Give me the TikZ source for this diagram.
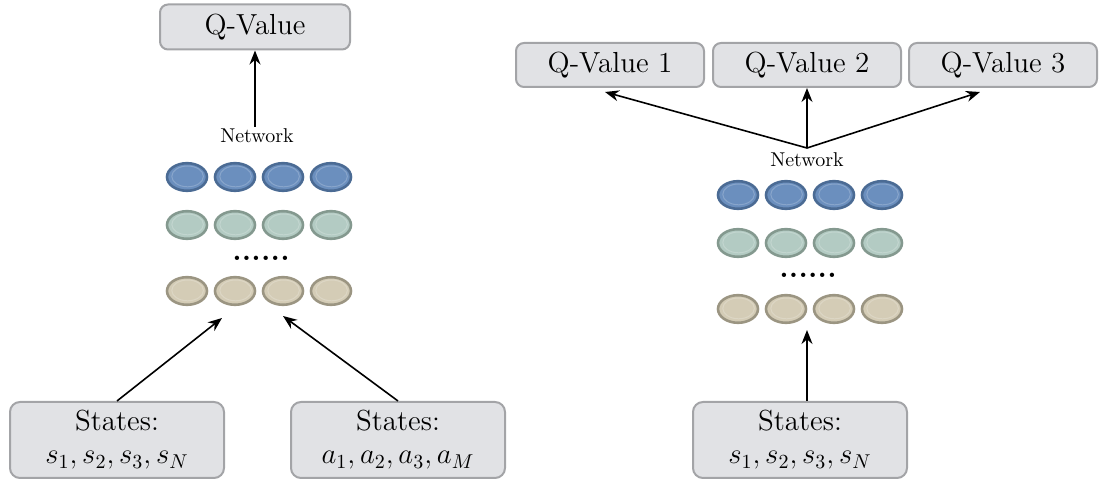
\documentclass[tikz,border=0pt]{standalone}
\usetikzlibrary{shapes.geometric,arrows.meta,calc}
\definecolor{boxfill}{HTML}{E1E2E5}
\definecolor{boxline}{HTML}{A3A4A7}
\definecolor{bluef}{HTML}{6B8FBE}
\definecolor{bluel}{HTML}{4B6B94}
\definecolor{greenf}{HTML}{B3CBC3}
\definecolor{greenl}{HTML}{84998F}
\definecolor{tanf}{HTML}{D4CCB6}
\definecolor{tanl}{HTML}{9B9582}
\tikzset{
  qbox/.style={draw=boxline, line width=1pt, fill=boxfill, rounded corners=4pt,
    minimum width=94pt, minimum height=22pt, inner sep=0pt, font=\fontsize{14.5}{16}\selectfont},
  sbox/.style={draw=boxline, line width=1pt, fill=boxfill, rounded corners=5pt,
    minimum width=107pt, minimum height=38pt, inner sep=0pt, align=center,
    font=\fontsize{14.5}{16.5}\selectfont},
  neuron/.style={ellipse, draw=#1l, line width=1.3pt, fill=#1f, minimum width=20pt,
    minimum height=13.8pt, inner sep=0pt,
    path picture={\draw[white, opacity=0.2, line width=0.5pt]
      ([xshift=0.3pt,yshift=0.3pt]path picture bounding box.center) ellipse (7.9pt and 5.2pt);}},
  netlabel/.style={font=\fontsize{10}{11}\selectfont, inner sep=1pt},
  dots/.style={font=\fontsize{15}{16}\selectfont\bfseries, inner sep=0pt},
  arr/.style={-{Stealth[length=7pt,width=5.5pt]}, line width=0.8pt, black}
}
\newcommand{\sixdots}{.\kern0.1pt.\kern0.1pt.\kern0.1pt.\kern0.1pt.\kern0.1pt.}
\begin{document}
\begin{tikzpicture}[x=0.5pt,y=-0.5pt]
\useasboundingbox (0,0) rectangle (1100,480);
% ---------- left network ----------
\node[qbox, minimum width=95pt, minimum height=22.5pt] (qL) at (255,27) {Q-Value};
\node[netlabel] (netL) at (257,136) {Network};
\foreach \x [count=\i] in {187,235,283,331}{
  \node[neuron=blue]  (lA\i) at (\x,177) {};
  \node[neuron=green] (lB\i) at (\x,225) {};
  \node[neuron=tan]   (lC\i) at (\x,291) {};
}
\node[dots] (ldots) at (261,258) {\sixdots};
\node[sbox] (sL1) at (117,440) {States:\\$s_1, s_2, s_3, s_N$};
\node[sbox] (sL2) at (398,440) {States:\\$a_1, a_2, a_3, a_M$};
\coordinate (tL1) at (222,318);
\coordinate (tL2) at (283,316);
\draw[arr] (netL.north -| qL.south) -- (qL.south);
\draw[arr] (sL1.north) -- (tL1);
\draw[arr] (sL2.north) -- (tL2);
% ---------- right network ----------
\node[qbox] (q1) at (610,65) {Q-Value 1};
\node[qbox] (q2) at (807,65) {Q-Value 2};
\node[qbox] (q3) at (1003,65) {Q-Value 3};
\node[netlabel] (netR) at (807,160) {Network};
\coordinate (hub) at (807,148);
\coordinate (t1) at (605,92);
\coordinate (t3) at (980,92);
\draw[arr] (hub) -- (t1);
\draw[arr] (hub) -- (q2.south);
\draw[arr] (hub) -- (t3);
\foreach \x [count=\i] in {738,786,834,882}{
  \node[neuron=blue]  (rA\i) at (\x,195) {};
  \node[neuron=green] (rB\i) at (\x,243) {};
  \node[neuron=tan]   (rC\i) at (\x,309) {};
}
\node[dots] (rdots) at (808,275) {\sixdots};
\node[sbox] (sR) at (800,440) {States:\\$s_1, s_2, s_3, s_N$};
\coordinate (tR) at (807,330);
\draw[arr] (sR.north -| tR) -- (tR);
\end{tikzpicture}
\end{document}
